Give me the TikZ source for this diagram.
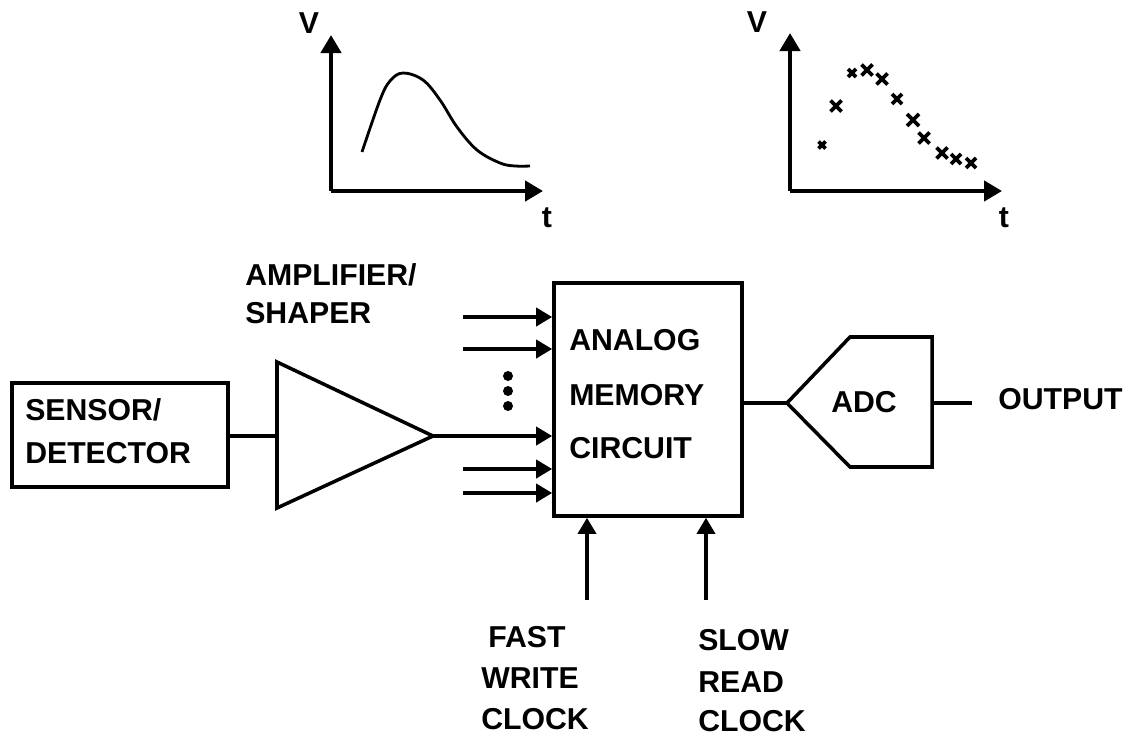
\documentclass[tikz,border=0pt]{standalone}
\usepackage{fontspec}
\setmainfont{Liberation Sans}
\usepackage{tikz}
\usetikzlibrary{arrows.meta, positioning, calc}

\newcommand{\crossmark}[3]{% x, y, half size
  \draw[line width=2.6pt] (#1-#3,#2-#3) -- (#1+#3,#2+#3) (#1-#3,#2+#3) -- (#1+#3,#2-#3);}

\begin{document}
\begin{tikzpicture}[
    x=0.025cm, y=-0.025cm,
    wire/.style={line width=2.5pt},
    sig/.style={line width=2.5pt, -{Triangle[length=0.4cm, width=0.45cm]}},
    axis/.style={line width=3.1pt, -{Triangle[length=0.45cm, width=0.5cm]}},
    block/.style={rectangle, draw=black, line width=2.5pt, inner sep=0pt},
    lbl/.style={font=\fontsize{21.5}{24}\selectfont\bfseries, inner sep=0pt, text depth=0pt}
]
\useasboundingbox (0,0) rectangle (1136,736);

% --- analog pulse
\coordinate (o1) at (331,191);
\draw[axis] (o1) -- (331,35);
\draw[axis] (o1) -- (543,191);
\node[lbl] (v1) at (309,23) {V};
\node[lbl] (t1) at (547,218) {t};
\draw[line width=2pt] plot[smooth, tension=0.6] coordinates {
    (362,152) (380,100) (390,81) (403,73) (423,80) (440,100)
    (457,127) (477,150) (500,163) (515,166) (530,166)};

% --- sampled pulse
\coordinate (o2) at (790,191);
\draw[axis] (o2) -- (790,33);
\draw[axis] (o2) -- (1002,191);
\node[lbl] (v2) at (757,22) {V};
\node[lbl] (t2) at (1004,218) {t};
\foreach \px/\py/\s in {822/145/3.5, 836/106/5.5, 852/73/4, 867/70/5.5, 882/79/5.5,
                        897/99/5, 913/120/6, 924/138/5.5, 942/153/5.5, 956/159/5, 971/163/5}
    {\crossmark{\px}{\py}{\s}}

% --- front end
\node[block, minimum width=5.4cm, minimum height=2.6cm] (sensor) at (120,435) {};
\node[lbl, anchor=base west] (sensortxt) at (25,420) {SENSOR/};
\node[lbl, anchor=base west] (detectortxt) at (25,463) {DETECTOR};

\coordinate (ampin) at (277,436);
\coordinate (ampout) at (433,436);
\draw[wire, line join=miter] (277,362) -- (ampout) -- (277,508) -- cycle;
\node[lbl, anchor=base west] (amptxt) at (245,285) {AMPLIFIER/};
\node[lbl, anchor=base west] (shapertxt) at (245,323) {SHAPER};
\draw[wire] (sensor.east |- ampin) -- (ampin);

% --- analog memory
\node[block, minimum width=4.7cm, minimum height=5.825cm] (mem) at (648,399.5) {};
\node[lbl, anchor=base west] (analog) at (569,350) {ANALOG};
\node[lbl, anchor=base west] (memory) at (569,405) {MEMORY};
\node[lbl, anchor=base west] (circuit) at (569,458) {CIRCUIT};

\draw[sig] (ampout) -- (ampout -| mem.west);
\foreach \iy [count=\i] in {317, 349, 469, 493} {
    \coordinate (in\i) at (463,\iy);
    \draw[sig] (in\i) -- (in\i -| mem.west);
}
\foreach \dy in {376, 391, 406}
    \fill (508,\dy) circle[radius=0.125cm];

% --- clocks
\coordinate (wclk) at (587,600);
\coordinate (rclk) at (706,600);
\draw[sig] (wclk) -- (wclk |- mem.south);
\draw[sig] (rclk) -- (rclk |- mem.south);
\node[lbl, anchor=base west] (fast) at (488,647) {FAST};
\node[lbl, anchor=base west] (write) at (481,688) {WRITE};
\node[lbl, anchor=base west] (wclock) at (481,729) {CLOCK};
\node[lbl, anchor=base west] (slow) at (698,650) {SLOW};
\node[lbl, anchor=base west] (read) at (698,692) {READ};
\node[lbl, anchor=base west] (rclock) at (698,731) {CLOCK};

% --- converter
\coordinate (adcin) at (787,403);
\coordinate (adcout) at (932,403);
\draw[wire, line join=miter] (adcin) -- (850,337) -- (932,337) -- (932,467) -- (850,467) -- cycle;
\node[lbl] (adc) at (864,402) {ADC};
\draw[wire] (adcin -| mem.east) -- (adcin);
\coordinate (outend) at (972,403);
\draw[wire] (adcout) -- (outend);
\node[lbl, anchor=base west] (output) at (998,409) {OUTPUT};
\end{tikzpicture}
\end{document}
